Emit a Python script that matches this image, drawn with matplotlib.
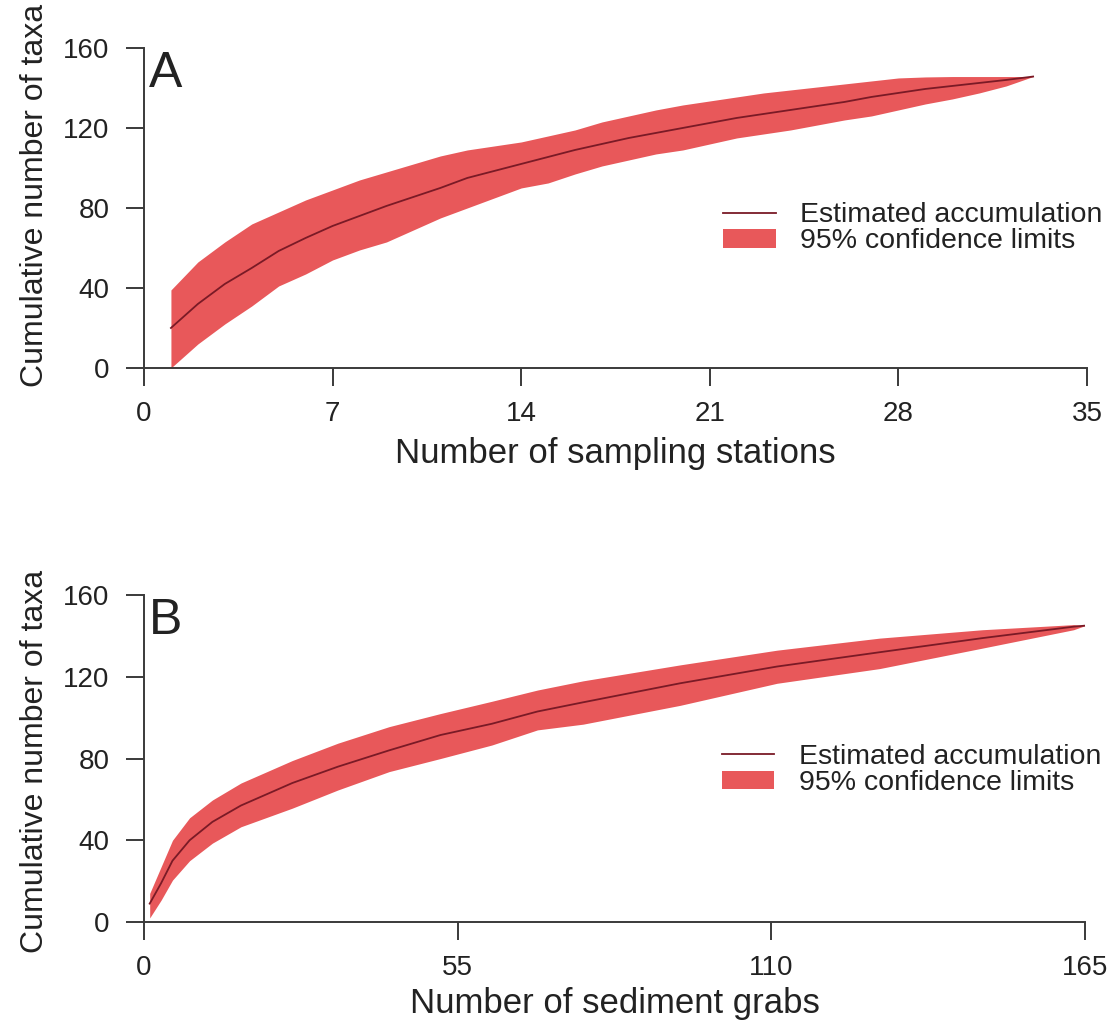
import matplotlib.pyplot as plt

plt.rcParams['font.family'] = ['Liberation Sans', 'DejaVu Sans']

# ---- panel A: sampling stations ----
stations = list(range(1, 34))
taxa_a = [20, 32, 42, 50, 58.5, 65, 71, 76, 81, 85.5, 90, 95, 98.5, 102, 105.5, 109, 112,
          115, 117.5, 120, 122.5, 125, 127, 129, 131, 133, 135.5, 137.5, 139.5, 141, 142.5,
          144, 145.7]
upper_a = [39, 53, 63, 72, 78, 84, 89, 94, 98, 102, 106, 109, 111, 113, 116, 119, 123,
           126, 129, 131.5, 133.5, 135.5, 137.5, 139, 140.5, 142, 143.5, 145, 145.5, 145.7,
           145.7, 145.7, 145.7]
lower_a = [0, 12, 22, 31, 41, 47, 54, 59, 63, 69, 75, 80, 85, 90, 92.5, 97, 101, 104, 107,
           109, 112, 115, 117, 119, 121.5, 124, 126, 129, 132, 134.5, 137.5, 141, 145.7]

# ---- panel B: sediment grabs ----
grabs = [1, 3, 5, 8, 12, 17, 26, 34, 43, 52, 61, 69, 77, 94, 111, 129, 147, 163, 165]
taxa_b = [9, 19, 30, 40, 49, 57, 68, 76, 84, 91.5, 97, 103, 107.5, 116.8, 125, 132, 138.9,
          144.5, 145]
upper_b = [14, 27, 40, 51, 59.7, 68, 79, 87.5, 95.6, 102, 108, 113.5, 118, 125.8, 133, 138.9,
           143, 145.5, 145]
lower_b = [2, 10.7, 20.5, 30, 38.6, 46.6, 55.7, 64.6, 73.6, 80, 86.6, 94, 96.8, 106, 116.8,
           124, 134, 143, 145]

yticks = [0, 40, 80, 120, 160]
xticks_a = [0, 7, 14, 21, 28, 35]
xticks_b = [0, 55, 110, 165]

band_col = '#e8585a'
line_col = '#7a1a26'
axis_col = '#3a3a3a'
text_col = '#222222'

fig = plt.figure(figsize=(11.11, 10.31), dpi=100)


def panel(rect, x, mean, lo, hi, xticks, xlabel, letter, leg_y, xlab_y, ylab_y):
    ax = fig.add_axes(rect)
    band = ax.fill_between(x, lo, hi, color=band_col, linewidth=0, label='95% confidence limits')
    line, = ax.plot(x, mean, color=line_col, lw=1.3, label='Estimated accumulation')
    ax.set_xlim(xticks[0], xticks[-1])
    ax.set_ylim(0, 160)
    ax.set_xticks(xticks)
    ax.set_yticks(yticks)
    for s in ['top', 'right']:
        ax.spines[s].set_visible(False)
    for s in ['left', 'bottom']:
        ax.spines[s].set_color(axis_col)
        ax.spines[s].set_linewidth(1.4)
    ax.tick_params(direction='out', length=13, width=1.4, color=axis_col,
                   labelsize=20, labelcolor=text_col)
    ax.tick_params(axis='y', pad=12)
    ax.tick_params(axis='x', pad=11)
    ax.set_xlabel(xlabel, fontsize=25, color=text_col)
    ax.set_ylabel('Cumulative number of taxa', fontsize=23, color=text_col)
    ax.xaxis.set_label_coords(0.5, xlab_y)
    ax.yaxis.set_label_coords(-0.1, ylab_y)
    ax.text(0.005, 0.99, letter, transform=ax.transAxes, ha='left', va='top',
            fontsize=36, color=text_col)
    ax.legend(handles=[line, band], loc='center left', bbox_to_anchor=(0.614, leg_y),
              frameon=False, fontsize=20.5, handlelength=1.85, handletextpad=0.85,
              handleheight=0.62, labelspacing=0.0, borderpad=0, borderaxespad=0,
              labelcolor=text_col)
    return ax


panel([0.1296, 0.6431, 0.8488, 0.3104], stations, taxa_a, lower_a, upper_a, xticks_a,
      'Number of sampling stations', 'A', 0.436, -0.215, 0.54)
panel([0.1296, 0.1057, 0.8470, 0.3172], grabs, taxa_b, lower_b, upper_b, xticks_b,
      'Number of sediment grabs', 'B', 0.465, -0.2, 0.49)

plt.savefig('out.png', dpi=100)
